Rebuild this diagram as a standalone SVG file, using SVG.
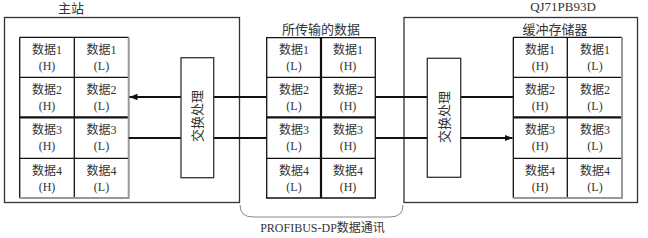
<svg xmlns="http://www.w3.org/2000/svg" width="648" height="238" viewBox="0 0 648 238">
<defs>
<style>
text{font-family:"Liberation Serif","Noto Sans CJK SC",serif;font-size:12px;fill:#333;text-anchor:middle}
.box{fill:#fff;stroke:#333;stroke-width:1.3}
.grid{stroke:#111;stroke-width:1.3;fill:none}
.thick{stroke:#111;stroke-width:2.2;fill:none}
.shadow{stroke:#999;stroke-width:2;fill:none}
.conn{stroke:#111;stroke-width:2;fill:none}
.title{font-size:13px}
</style>
<marker id="arr" viewBox="0 0 8 8" refX="8" refY="4" markerWidth="8" markerHeight="8" markerUnits="userSpaceOnUse" orient="auto">
<path d="M0,0.8 L8,4 L0,7.2 Z" fill="#111"/>
</marker>
</defs>

<g id="master">
<rect class="box" x="4.5" y="17.5" width="235" height="185"/>
<text class="title" x="71" y="13">主站</text>
</g>

<g id="slave">
<rect class="box" x="404" y="17.5" width="233.5" height="185"/>
<text class="title" x="563" y="11">QJ71PB93D</text>
<text class="title" x="555" y="34">缓冲存储器</text>
</g>

<g id="master-table">
<rect x="19.7" y="37.3" width="109" height="160.7" fill="#fff"/>
<path class="grid" d="M19.7,37.3 H128.7 M19.7,37.3 V198 M74.3,37.3 V198 M19.7,77.3 H128.7 M19.7,158.3 H128.7"/>
<path class="thick" d="M19.7,117.3 H128.7"/>
<path class="shadow" d="M128.7,37.3 V198 H19.7"/>
<text x="47" y="54">数据1</text><text x="47" y="70">(H)</text>
<text x="101.5" y="54">数据1</text><text x="101.5" y="70">(L)</text>
<text x="47" y="94">数据2</text><text x="47" y="110">(H)</text>
<text x="101.5" y="94">数据2</text><text x="101.5" y="110">(L)</text>
<text x="47" y="134">数据3</text><text x="47" y="150">(H)</text>
<text x="101.5" y="134">数据3</text><text x="101.5" y="150">(L)</text>
<text x="47" y="175">数据4</text><text x="47" y="191">(H)</text>
<text x="101.5" y="175">数据4</text><text x="101.5" y="191">(L)</text>
</g>

<g id="transfer-table">
<text class="title" x="321" y="34">所传输的数据</text>
<rect x="266.7" y="37.7" width="108.6" height="160.3" fill="#fff"/>
<path class="grid" d="M266.7,37.7 H375.3 V198 H266.7 Z M266.7,77.3 H375.3 M266.7,158.3 H375.3"/>
<path class="thick" d="M266.7,117.3 H375.3 M321,37.7 V198"/>
<text x="294" y="54">数据1</text><text x="294" y="70">(L)</text>
<text x="348" y="54">数据1</text><text x="348" y="70">(H)</text>
<text x="294" y="94">数据2</text><text x="294" y="110">(L)</text>
<text x="348" y="94">数据2</text><text x="348" y="110">(H)</text>
<text x="294" y="134">数据3</text><text x="294" y="150">(L)</text>
<text x="348" y="134">数据3</text><text x="348" y="150">(H)</text>
<text x="294" y="175">数据4</text><text x="294" y="191">(L)</text>
<text x="348" y="175">数据4</text><text x="348" y="191">(H)</text>
</g>

<g id="slave-table">
<rect x="513.3" y="37.3" width="108.7" height="160.7" fill="#fff"/>
<path class="grid" d="M513.3,37.3 H622 M513.3,37.3 V198 M567.3,37.3 V198 M513.3,77.3 H622 M513.3,158.3 H622"/>
<path class="thick" d="M513.3,117.3 H622"/>
<path class="shadow" d="M622,37.3 V198 H513.3"/>
<text x="540" y="54">数据1</text><text x="540" y="70">(H)</text>
<text x="595" y="54">数据1</text><text x="595" y="70">(L)</text>
<text x="540" y="94">数据2</text><text x="540" y="110">(H)</text>
<text x="595" y="94">数据2</text><text x="595" y="110">(L)</text>
<text x="540" y="134">数据3</text><text x="540" y="150">(H)</text>
<text x="595" y="134">数据3</text><text x="595" y="150">(L)</text>
<text x="540" y="175">数据4</text><text x="540" y="191">(H)</text>
<text x="595" y="175">数据4</text><text x="595" y="191">(L)</text>
</g>

<g id="connectors">
<path class="conn" d="M266.7,97 H213.7"/>
<path class="conn" d="M181,97 H129.5" marker-end="url(#arr)"/>
<path class="conn" d="M128.7,138 H181"/>
<path class="conn" d="M213.7,138 H266.7"/>
<path class="conn" d="M375.3,97 H427.3"/>
<path class="conn" d="M460.7,97 H513.3"/>
<path class="conn" d="M375.3,138 H427.3"/>
<path class="conn" d="M460.7,138 H512.5" marker-end="url(#arr)"/>
<path d="M240,205 Q240,217 253,217 H390 Q403,217 403,205" fill="none" stroke="#888" stroke-width="1"/>
</g>

<g id="convert-master">
<rect class="box" x="181" y="57.7" width="32.7" height="120" stroke="#111"/>
<text class="title" transform="translate(197.5,116) rotate(-90)" dominant-baseline="central">交换处理</text>
</g>

<g id="convert-slave">
<rect class="box" x="427.3" y="58.3" width="33.4" height="119" stroke="#111"/>
<text class="title" transform="translate(444,117) rotate(-90)" dominant-baseline="central">交换处理</text>
</g>

<text x="322.5" y="232">PROFIBUS-DP数据通讯</text>
</svg>
